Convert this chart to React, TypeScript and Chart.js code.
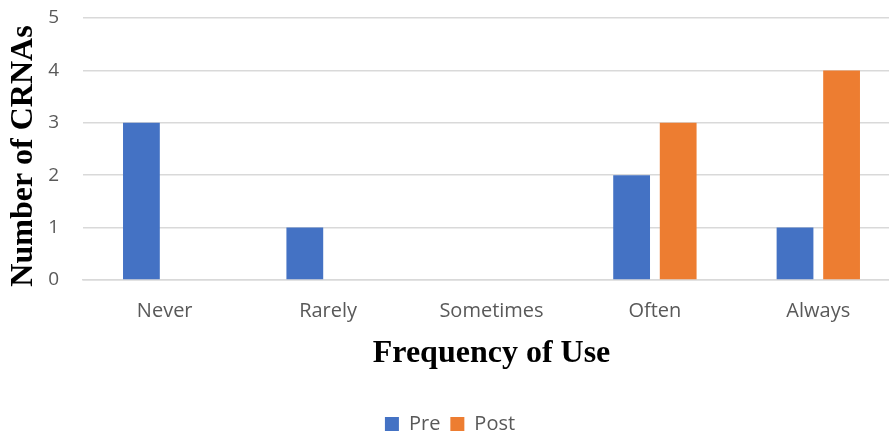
import React, { useEffect, useRef } from "react";
import { Chart, registerables } from "chart.js";

Chart.register(...registerables);

const categories = ["Never", "Rarely", "Sometimes", "Often", "Always"];
const preValues = [3, 1, 0, 2, 1];
const postValues = [0, 0, 0, 3, 4];
const seriesNames = ["Pre", "Post"];
const yTicks = [0, 1, 2, 3, 4, 5];
const xTitle = "Frequency of Use";
const yTitle = "Number of CRNAs";

const titleFontCss = "bold 32px 'Liberation Serif', 'Times New Roman', serif";

const yTitlePlugin = {
  id: "yTitlePlugin",
  afterDraw(chart: any) {
    const ctx = chart.ctx;
    const area = chart.chartArea;
    ctx.save();
    ctx.font = titleFontCss;
    ctx.fillStyle = "#000";
    ctx.textAlign = "center";
    ctx.textBaseline = "middle";
    ctx.translate(24, (area.top + area.bottom) / 2 + 7);
    ctx.rotate(-Math.PI / 2);
    ctx.fillText(yTitle, 0, 0);
    ctx.restore();
  },
};

export default function App() {
  const ref = useRef<HTMLCanvasElement | null>(null);
  useEffect(() => {
    if (!ref.current) return;
    const tickFont = { family: "'Open Sans', 'Noto Sans', sans-serif", size: 20 };
    const yTickFont = { family: "'Open Sans', 'Noto Sans', sans-serif", size: 19 };
    const titleFont = { family: "'Liberation Serif', 'Times New Roman', serif", size: 32, weight: "bold" as const };
    const chart = new Chart(ref.current, {
      type: "bar",
      data: {
        labels: categories,
        datasets: [
          { label: seriesNames[0], data: preValues, backgroundColor: "#4472C4", categoryPercentage: 0.57, barPercentage: 0.79 },
          { label: seriesNames[1], data: postValues, backgroundColor: "#ED7D31", categoryPercentage: 0.57, barPercentage: 0.79 },
        ],
      },
      plugins: [yTitlePlugin],
      options: {
        animation: false,
        responsive: false,
        maintainAspectRatio: false,
        layout: { padding: { top: 18, left: 0, right: 0, bottom: 0 } },
        plugins: {
          legend: {
            position: "bottom",
            labels: { boxWidth: 14, boxHeight: 14, font: tickFont, color: "#595959", padding: 10 },
          },
          tooltip: { enabled: false },
        },
        scales: {
          x: {
            grid: { display: false, drawTicks: false },
            border: { color: "#d9d9d9", width: 1.5 },
            ticks: { font: tickFont, color: "#595959", padding: 19 },
            title: { display: true, text: xTitle, font: titleFont, color: "#000", padding: { top: 10, bottom: 31 } },
            afterFit: (s: any) => { s.height = 124; s.paddingTop = 0; s.paddingBottom = 0; },
          },
          y: {
            min: 0,
            max: 5,
            afterBuildTicks: (s: any) => { s.ticks = yTicks.map((v) => ({ value: v })); },
            grid: { color: "#d9d9d9", lineWidth: 1.5, drawTicks: false },
            border: { display: false },
            ticks: { font: yTickFont, color: "#595959", padding: 24 },
            title: { display: false },
            afterFit: (s: any) => { s.width = 83; s.paddingTop = 0; s.paddingBottom = 0; },
          },
        },
      },
    });
    return () => chart.destroy();
  }, []);
  return (
    <div style={{ position: "absolute", left: 0, top: 0, width: 889, height: 439, overflow: "hidden", background: "#fff" }}>
      <canvas ref={ref} width={900} height={444} style={{ display: "block" }} />
    </div>
  );
}
